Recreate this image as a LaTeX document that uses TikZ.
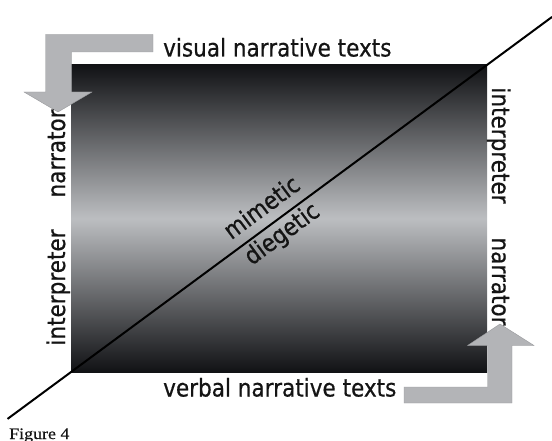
\documentclass[tikz,border=0pt]{standalone}
\usepackage{fontspec}
\setmainfont{DejaVu Sans}
\newfontfamily\lblfont{DejaVu Sans}[FakeBold=0.7]
\newfontfamily\capfont{Liberation Serif}[FakeBold=0.4]
\usepackage{graphicx}
\usetikzlibrary{calc}
\definecolor{dk}{HTML}{111215}
\definecolor{lt}{HTML}{BCBEC1}
\definecolor{arrgray}{HTML}{B3B4B7}
\definecolor{txt}{HTML}{141414}
\begin{document}
\begin{tikzpicture}[x=1pt,y=-1pt]
\tikzset{
  lbl/.style={font=\lblfont\fontsize{24.5}{28}\selectfont, inner sep=0pt, text=txt},
  gradbox/.style={minimum width=416pt, minimum height=307pt, inner sep=0pt,
    top color=dk, bottom color=dk, middle color=lt},
  arrowshape/.style={fill=arrgray, draw=arrgray!85!black, line width=0.4pt},
  diag/.style={line width=2pt, black}
}
\useasboundingbox (0,0) rectangle (552,441);
% gradient box
\node[gradbox] (box) at (279,218.5) {};
% diagonal
\draw[diag] ($(box.south west)!-0.152!(box.north east)$) -- ($(box.south west)!1.156!(box.north east)$);
% arrows
\path[arrowshape] (153,34.5) -- (45.5,34.5) -- (45.5,92) -- (24,92) -- (58,112) -- (92,92) -- (71.5,92) -- (71.5,52) -- (153,52) -- cycle;
\path[arrowshape] (404,387) -- (487.5,387) -- (487.5,345.5) -- (467.5,345.5) -- (500,324) -- (534,345.5) -- (512,345.5) -- (512,403) -- (404,403) -- cycle;
% labels
\node[lbl, anchor=base west] (vis) at (163,56.5) {\scalebox{0.88}[1]{visual narrative texts}};
\node[lbl, anchor=base west] (verb) at (163,396.5) {\scalebox{0.88}[1]{verbal narrative texts}};
\node[lbl, rotate=90, anchor=base] (nl) at (65,153.5) {\scalebox{0.88}[1]{narrator}};
\node[lbl, rotate=90, anchor=base] (il) at (65,287.5) {\scalebox{0.88}[1]{interpreter}};
\node[lbl, rotate=-90, anchor=base] (ir) at (492,145.5) {\scalebox{0.88}[1]{interpreter}};
\node[lbl, rotate=-90, anchor=base] (nr) at (492,281.5) {\scalebox{0.88}[1]{narrator}};
\node[lbl, rotate=36.5, anchor=mid] (mim) at (265,212) {\scalebox{0.88}[1]{mimetic}};
\node[lbl, rotate=36.5, anchor=mid] (die) at (285,238) {\scalebox{0.88}[1]{diegetic}};
\node[anchor=base west, inner sep=0pt, font=\capfont\fontsize{16}{18}\selectfont, text=txt] (fig) at (9,439) {\scalebox{1.12}[1]{Figure 4}};
\end{tikzpicture}
\end{document}
